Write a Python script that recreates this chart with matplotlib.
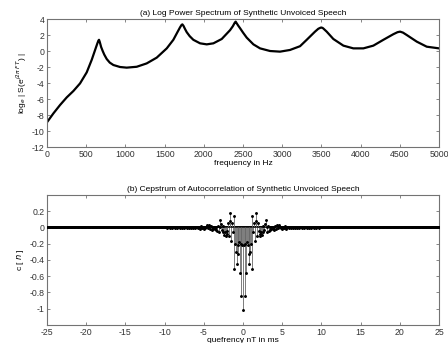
import matplotlib
matplotlib.use("Agg")
import matplotlib.pyplot as plt
import numpy as np

# (a) log power spectrum
freq_hz = [0, 81, 166, 251, 336, 421, 506, 570, 612, 640, 655, 663, 672, 690,
           710, 730, 761, 800, 846, 931, 1016, 1144, 1271, 1399, 1527, 1611,
           1660, 1696, 1715, 1726, 1740, 1760, 1782, 1820, 1866, 1952, 2037,
           2122, 2228, 2334, 2370, 2395, 2406, 2420, 2440, 2462, 2500, 2547,
           2632, 2717, 2844, 2972, 3099, 3227, 3312, 3418, 3460, 3490, 3503,
           3520, 3567, 3652, 3780, 3907, 4035, 4162, 4290, 4417, 4470, 4503,
           4540, 4588, 4716, 4843, 5000]
log_spec = [-8.9, -7.8, -6.75, -5.8, -5.0, -4.05, -2.67, -1.1, 0.1, 0.9, 1.3,
            1.4, 1.15, 0.5, 0.0, -0.45, -1.0, -1.45, -1.75, -2.0, -2.08, -1.97,
            -1.55, -0.83, 0.33, 1.4, 2.3, 2.95, 3.25, 3.33, 3.15, 2.75, 2.35,
            1.85, 1.4, 0.96, 0.83, 0.96, 1.5, 2.6, 3.1, 3.55, 3.67, 3.45, 3.15,
            2.85, 2.3, 1.67, 0.83, 0.33, 0.0, -0.08, 0.13, 0.6, 1.4, 2.42, 2.78,
            2.92, 2.93, 2.85, 2.42, 1.5, 0.67, 0.33, 0.33, 0.67, 1.4, 2.1, 2.35,
            2.42, 2.3, 2.0, 1.17, 0.54, 0.33]

# (b) cepstrum, one side n = 0.. (T = 0.1 ms), mirrored to negative n
cep_half = [-1.02, -0.22, -0.84, -0.20, -0.56, -0.18, -0.22, -0.33, -0.45, -0.30,
            -0.20, -0.51, 0.14, -0.05, 0.06, -0.17, 0.08, 0.18, -0.10, 0.06,
            -0.04, -0.08, -0.11, -0.05, -0.09, 0.02, -0.06, -0.03, 0.04, 0.09,
            0.01, -0.05, 0.02, -0.04, 0.00, -0.03, -0.02, 0.01, -0.02, -0.03,
            0.01, 0.02, -0.02, 0.03, 0.02, -0.01, 0.03, 0.01, -0.01, 0.00,
            -0.02, 0.01, -0.01, 0.015, 0.00, -0.015, 0.01, 0.005, -0.01, 0.01,
            0.00, -0.01, 0.01, 0.005, -0.005, 0.01, -0.005, 0.00, 0.008, -0.005,
            0.005, -0.008, 0.005, 0.00, 0.006, -0.004, 0.004, 0.00, -0.005, 0.004,
            0.003, -0.003, 0.004, 0.00, -0.003, 0.003, 0.002, -0.002, 0.002, 0.00,
            -0.002, 0.002, 0.001, -0.002, 0.001, 0.00, 0.002, -0.001, 0.001, 0.00]
T_ms = 0.1
n_max = 250

top_xticks = list(range(0, 5001, 500))
top_yticks = list(range(-12, 5, 2))
top_yticklabels = ['-12', '-10', '-8', '-6', '-4', '-2', '0', '2', '4']
bot_xticks = list(range(-25, 26, 5))
bot_xticklabels = ['-25', '-20', '-15', '-10', '-5', '0', '5', '10', '15', '20', '25']
bot_yticks = [-1, -0.8, -0.6, -0.4, -0.2, 0, 0.2]
bot_yticklabels = ['-1', '-0.8', '-0.6', '-0.4', '-0.2', '0', '0.2']

plt.rcParams['font.family'] = ['Liberation Sans', 'DejaVu Sans']
plt.rcParams['font.size'] = 6


def style(ax):
    for s in ax.spines.values():
        s.set_color('0.45')
        s.set_linewidth(0.8)
    ax.tick_params(direction='in', length=2.5, width=0.6, color='0.45',
                   labelsize=6.3, labelcolor='0.2', top=True, right=True, pad=2)


fig = plt.figure(figsize=(4.48, 3.43), dpi=100)

ax1 = fig.add_axes([0.105, 0.5714, 0.875, 0.3732])
ax1.plot(freq_hz, log_spec, color='k', lw=1.6, solid_joinstyle='round')
ax1.set_xlim(0, 5000)
ax1.set_ylim(-12, 4)
ax1.set_xticks(top_xticks)
ax1.set_xticklabels([str(t) for t in top_xticks])
ax1.set_yticks(top_yticks)
ax1.set_yticklabels(top_yticklabels)
ax1.set_title('(a) Log Power Spectrum of Synthetic Unvoiced Speech', fontsize=6, pad=3)
ax1.set_xlabel('frequency in Hz', fontsize=6, labelpad=1)
ax1.set_ylabel(r'log$_e$ | S(e$^{j2\pi\ FT}$) |', fontsize=6, labelpad=2)
style(ax1)

half = np.zeros(n_max + 1)
half[:len(cep_half)] = cep_half
cep = np.concatenate([half[:0:-1], half])
n = np.arange(-n_max, n_max + 1)
q = n * T_ms

ax2 = fig.add_axes([0.105, 0.0525, 0.875, 0.379])
ax2.axhline(0, color='k', lw=1.4, zorder=1)
ax2.vlines(q, 0, cep, color='0.4', lw=0.6, zorder=2)
ax2.plot(q, cep, 'k.', ms=2.2, zorder=3)
ax2.set_xlim(-25, 25)
ax2.set_ylim(-1.2, 0.4)
ax2.set_xticks(bot_xticks)
ax2.set_xticklabels(bot_xticklabels)
ax2.set_yticks(bot_yticks)
ax2.set_yticklabels(bot_yticklabels)
ax2.set_title('(b) Cepstrum of Autocorrelation of Synthetic Unvoiced Speech', fontsize=6, pad=3)
ax2.set_xlabel('quefrency nT in ms', fontsize=6, labelpad=0.5)
ax2.set_ylabel(r'c [ $n$ ]', fontsize=6, labelpad=2)
style(ax2)

fig.savefig('out.png', dpi=100)
